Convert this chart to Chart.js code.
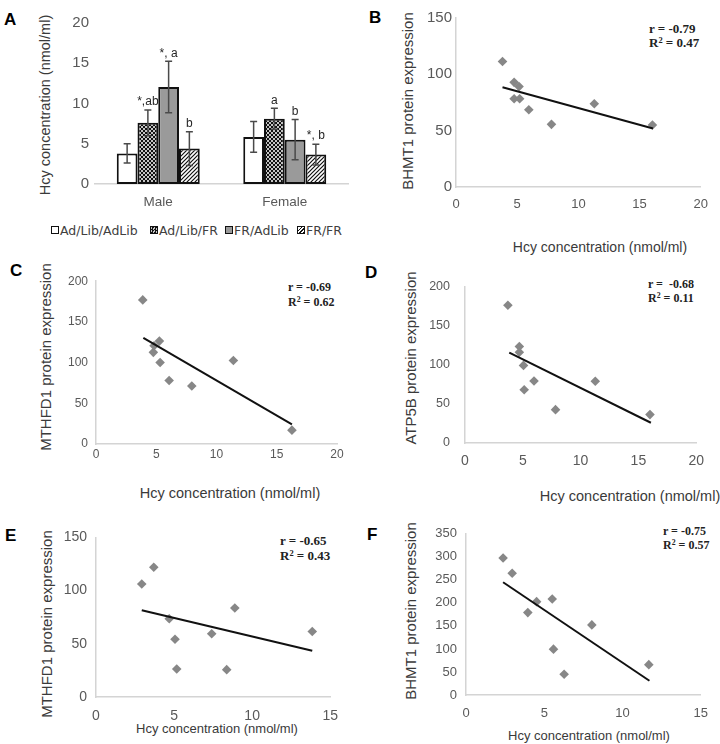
<!DOCTYPE html>
<html>
<head>
<meta charset="utf-8">
<script src="https://cdn.jsdelivr.net/npm/chart.js@4.4.1/dist/chart.umd.min.js"></script>
<style>
  html, body { margin: 0; padding: 0; background: #fff; }
  body { width: 720px; height: 744px; position: relative; overflow: hidden; font-family: "Liberation Sans", Arial, sans-serif; }
  canvas { position: absolute; }
  .lbl { position: absolute; font-weight: bold; font-size: 17px; line-height: 1; color: #000; }
  .ytitle { position: absolute; white-space: nowrap; font-size: 15px; color: #3a3a3a; transform: translate(-50%, -50%) rotate(-90deg); }
  .xtitle { position: absolute; white-space: nowrap; font-size: 14px; color: #3a3a3a; transform: translate(-50%, -50%); }
  .stat { position: absolute; white-space: nowrap; font-family: "Liberation Serif", "Times New Roman", serif; font-weight: bold; color: #222; }
  .stat sup { font-size: 0.65em; line-height: 0; vertical-align: 0.5em; }
  .leg { position: absolute; top: 222px; height: 16px; display: flex; align-items: center; font-family: "DejaVu Sans", sans-serif; font-size: 12.5px; color: #404040; white-space: nowrap; }
  .sw { width: 6px; height: 6px; border: 1.3px solid #111; margin-right: 1px; }
</style>
</head>
<body>

<div class="lbl" style="left:4px;top:11px">A</div>
<div class="lbl" style="left:369px;top:9px">B</div>
<div class="lbl" style="left:10px;top:262px">C</div>
<div class="lbl" style="left:365px;top:264px">D</div>
<div class="lbl" style="left:5px;top:527px">E</div>
<div class="lbl" style="left:367px;top:526px">F</div>

<div class="ytitle" style="left:45px;top:105px;font-size:14.5px">Hcy concentration (nmol/ml)</div>
<div class="ytitle" style="left:407px;top:101px">BHMT1 protein expression</div>
<div class="ytitle" style="left:45px;top:357px">MTHFD1 protein expression</div>
<div class="ytitle" style="left:410px;top:358px">ATP5B protein expression</div>
<div class="ytitle" style="left:46px;top:624px">MTHFD1 protein expression</div>
<div class="ytitle" style="left:410px;top:611px">BHMT1 protein expression</div>

<div class="xtitle" style="left:600px;top:247px">Hcy concentration (nmol/ml)</div>
<div class="xtitle" style="left:230px;top:493px;font-size:14.5px">Hcy concentration (nmol/ml)</div>
<div class="xtitle" style="left:630px;top:496px;font-size:14.5px">Hcy concentration (nmol/ml)</div>
<div class="xtitle" style="left:217px;top:728px;font-size:13px">Hcy concentration (nmol/ml)</div>
<div class="xtitle" style="left:589px;top:735px;font-size:13px">Hcy concentration (nmol/ml)</div>

<div class="stat" style="left:649px;top:22px;font-size:13px;line-height:14px">r = -0.79<br>R<sup>2</sup> = 0.47</div>
<div class="stat" style="left:288px;top:280px;font-size:12px;line-height:15px">r = -0.69<br>R<sup>2</sup> = 0.62</div>
<div class="stat" style="left:648px;top:277px;font-size:12px;line-height:14px">r =&nbsp;&nbsp;-0.68<br>R<sup>2</sup> = 0.11</div>
<div class="stat" style="left:280px;top:533px;font-size:13px;line-height:15px">r = -0.65<br>R<sup>2</sup> = 0.43</div>
<div class="stat" style="left:663px;top:525px;font-size:12px;line-height:13.5px">r = -0.75<br>R<sup>2</sup> = 0.57</div>

<script>
'use strict';

// ---------- panel A: Hcy by sex and diet group ----------
var groups = ['Male', 'Female'];
var seriesNames = ['Ad/Lib/AdLib', 'Ad/Lib/FR', 'FR/AdLib', 'FR/FR'];
var adlibAdlib = [3.8, 5.85];
var adlibFr = [7.6, 8.1];
var frAdlib = [12.05, 5.5];
var frFr = [4.4, 3.65];
var adlibAdlibSd = [1.2, 1.9];
var adlibFrSd = [1.6, 1.3];
var frAdlibSd = [3.2, 2.5];
var frFrSd = [2.1, 1.3];
var adlibAdlibSig = ['', ''];
var adlibFrSig = ['*,ab', 'a'];
var frAdlibSig = ['*, a', 'b'];
var frFrSig = ['b', '*, b'];
var ticksHcyA = [0, 5, 10, 15, 20];

// ---------- scatter panels ----------
var ticks15 = [0, 5, 10, 15];
var ticks20 = [0, 5, 10, 15, 20];
var ticks150 = [0, 50, 100, 150];
var ticks200 = [0, 50, 100, 150, 200];
var ticks350 = [0, 50, 100, 150, 200, 250, 300, 350];

// B: BHMT1
var hcyB = [3.8, 4.75, 5.15, 4.75, 5.2, 5.95, 7.8, 11.3, 16.05];
var bhmt1B = [111.4, 92.9, 89.1, 78.3, 78.3, 68.6, 55.6, 73.9, 55];
var fitHcyB = [3.8, 16.1];
var fitB = [88.5, 52];

// C: MTHFD1
var hcyC = [3.88, 4.76, 4.82, 5.26, 5.32, 6.07, 7.95, 11.4, 16.26];
var mthfd1C = [177, 112.6, 120.7, 126.4, 100.2, 78, 71.2, 102.6, 17];
var fitHcyC = [3.93, 16.26];
var fitC = [130.4, 24.1];

// D: ATP5B
var hcyD = [3.71, 4.7, 4.7, 5.06, 5.12, 5.97, 7.83, 11.27, 16.0];
var atp5bD = [176, 123.3, 116, 99.2, 68, 79.2, 42.6, 78.9, 36.3];
var fitHcyD = [3.83, 16.08];
var fitD = [115.5, 25.9];

// E: MTHFD1
var hcyE = [2.93, 3.7, 4.69, 5.06, 5.17, 7.41, 8.37, 8.89, 13.85];
var mthfd1E = [106.2, 121.9, 73.6, 54.3, 26.3, 59.5, 25.7, 83.6, 61.6];
var fitHcyE = [2.93, 13.85];
var fitE = [81.5, 43.5];

// F: BHMT1
var hcyF = [2.37, 2.95, 3.95, 4.51, 5.51, 5.59, 6.27, 8.04, 11.68];
var bhmt1F = [297.4, 264.4, 178.9, 202.7, 208.3, 99.6, 44.9, 152.2, 65.9];
var fitHcyF = [2.37, 11.72];
var fitF = [244.8, 30.9];

Chart.defaults.font.family = '"Liberation Sans", Arial, sans-serif';
Chart.defaults.color = '#595959';
Chart.defaults.animation = false;
Chart.defaults.plugins.legend.display = false;
Chart.defaults.plugins.tooltip.enabled = false;

var PAD_L = 50, PAD_T = 12, PAD_R = 13, PAD_B = 30, Y_W = 44, X_H = 26;

function place(area) {
    var c = document.createElement('canvas');
    var left = area.l - PAD_L, top = area.t - PAD_T;
    var w = area.r + PAD_R - left, h = area.b + PAD_B - top;
    c.width = w; c.height = h;
    c.style.left = left + 'px'; c.style.top = top + 'px';
    c.style.width = w + 'px'; c.style.height = h + 'px';
    document.body.appendChild(c);
    return c;
}

function fixedTicks(values) {
    return function(scale) {
        scale.ticks = values.map(function(v) { return { value: v }; });
    };
}

var layoutPad = { left: PAD_L - Y_W, top: PAD_T, right: PAD_R, bottom: PAD_B - X_H };

function pattern(kind) {
    var c = document.createElement('canvas');
    var g;
    if (kind === 'check') {
        c.width = 4; c.height = 4;
        g = c.getContext('2d');
        g.fillStyle = '#c4c4c4'; g.fillRect(0, 0, 4, 4);
        g.fillStyle = '#111'; g.fillRect(0, 0, 2, 2); g.fillRect(2, 2, 2, 2);
    } else {
        c.width = 4; c.height = 4;
        g = c.getContext('2d');
        g.fillStyle = '#fff'; g.fillRect(0, 0, 4, 4);
        g.strokeStyle = '#111'; g.lineWidth = 1.2;
        g.beginPath();
        g.moveTo(-1, 5); g.lineTo(5, -1);
        g.moveTo(-1, 1); g.lineTo(1, -1);
        g.moveTo(3, 5); g.lineTo(5, 3);
        g.stroke();
    }
    return document.createElement('canvas').getContext('2d').createPattern(c, 'repeat');
}

var errorBars = {
    id: 'errorBars',
    afterDatasetsDraw: function(chart) {
        var ctx = chart.ctx, y = chart.scales.y;
        chart.data.datasets.forEach(function(ds, i) {
            chart.getDatasetMeta(i).data.forEach(function(bar, j) {
                var v = ds.data[j], e = ds.sd[j];
                var top = y.getPixelForValue(v + e), bot = y.getPixelForValue(v - e);
                ctx.save();
                ctx.strokeStyle = '#4a4a4a';
                ctx.lineWidth = 1.5;
                ctx.beginPath();
                ctx.moveTo(bar.x, top); ctx.lineTo(bar.x, bot);
                ctx.moveTo(bar.x - 3.5, top); ctx.lineTo(bar.x + 3.5, top);
                ctx.moveTo(bar.x - 3.5, bot); ctx.lineTo(bar.x + 3.5, bot);
                ctx.stroke();
                if (ds.sig[j]) {
                    ctx.fillStyle = '#262626';
                    ctx.font = '12px "Liberation Sans", Arial, sans-serif';
                    ctx.textAlign = 'center';
                    ctx.textBaseline = 'bottom';
                    ctx.fillText(ds.sig[j], bar.x, top - 2);
                }
                ctx.restore();
            });
        });
    }
};

// ---------- panel A ----------
var fillsA = ['#ffffff', pattern('check'), '#9a9a9a', pattern('hatch')];
var meansA = [adlibAdlib, adlibFr, frAdlib, frFr];
var sdA = [adlibAdlibSd, adlibFrSd, frAdlibSd, frFrSd];
var sigA = [adlibAdlibSig, adlibFrSig, frAdlibSig, frFrSig];

new Chart(place({ l: 95, r: 348, t: 20, b: 184 }), {
    type: 'bar',
    data: {
        labels: groups,
        datasets: seriesNames.map(function(name, i) {
            return {
                label: name,
                data: meansA[i],
                sd: sdA[i],
                sig: sigA[i],
                backgroundColor: fillsA[i],
                borderColor: '#111',
                borderWidth: 2,
                borderSkipped: false,
                categoryPercentage: 0.656,
                barPercentage: 1
            };
        })
    },
    options: {
        responsive: false,
        layout: { padding: layoutPad },
        scales: {
            x: {
                grid: { display: false, drawTicks: false },
                border: { color: '#d4d4d4', width: 1.5 },
                ticks: { font: { size: 13.5 }, padding: 10 },
                afterFit: function(s) { s.height = X_H; }
            },
            y: {
                min: 0, max: 20,
                grid: { display: false, drawTicks: false },
                border: { display: false },
                ticks: { font: { size: 15 }, padding: 6 },
                afterBuildTicks: fixedTicks(ticksHcyA),
                afterFit: function(s) { s.width = Y_W; }
            }
        }
    },
    plugins: [errorBars]
});

// legend for panel A
var legLeft = [51, 150, 225, 297];
var swatch = [
    'background:#fff',
    'background:repeating-conic-gradient(#111 0 25%, #c4c4c4 0 50%) 0 0/3px 3px',
    'background:#9a9a9a',
    'background:repeating-linear-gradient(-45deg, #111 0 1px, #fff 1px 2.6px)'
];
seriesNames.forEach(function(name, i) {
    var d = document.createElement('div');
    d.className = 'leg';
    d.style.left = legLeft[i] + 'px';
    d.innerHTML = '<span class="sw" style="' + swatch[i] + '"></span>';
    d.appendChild(document.createTextNode(name));
    document.body.appendChild(d);
});

// ---------- scatter panels ----------
function scatterPanel(area, xs, ys, fitX, fitY, xTicks, yTicks, st) {
    new Chart(place(area), {
        type: 'scatter',
        data: {
            datasets: [{
                data: fitX.map(function(x, i) { return { x: x, y: fitY[i] }; }),
                showLine: true,
                borderColor: '#111',
                borderWidth: 2,
                pointRadius: 0,
                order: 0
            }, {
                data: xs.map(function(x, i) { return { x: x, y: ys[i] }; }),
                pointStyle: 'rectRot',
                pointRadius: 4.8,
                backgroundColor: '#878787',
                borderWidth: 0,
                order: 1
            }]
        },
        options: {
            responsive: false,
            layout: { padding: layoutPad },
            scales: {
                x: {
                    min: xTicks[0], max: xTicks[xTicks.length - 1],
                    grid: { display: false, drawTicks: false },
                    border: { color: '#d4d4d4', width: 1.5 },
                    ticks: { font: { size: st.xFont }, padding: st.xPad },
                    afterBuildTicks: fixedTicks(xTicks),
                    afterFit: function(s) { s.height = X_H; }
                },
                y: {
                    min: yTicks[0], max: yTicks[yTicks.length - 1],
                    grid: { display: false, drawTicks: false },
                    border: { color: '#d4d4d4', width: 1.5 },
                    ticks: { font: { size: st.yFont }, padding: st.yPad },
                    afterBuildTicks: fixedTicks(yTicks),
                    afterFit: function(s) { s.width = Y_W; }
                }
            }
        }
    });
}

scatterPanel({ l: 456, r: 705, t: 17, b: 187 }, hcyB, bhmt1B, fitHcyB, fitB, ticks20, ticks150,
    { xFont: 13, xPad: 10, yFont: 15, yPad: 4 });
scatterPanel({ l: 96, r: 337, t: 278, b: 444 }, hcyC, mthfd1C, fitHcyC, fitC, ticks20, ticks200,
    { xFont: 12, xPad: 3, yFont: 12, yPad: 8 });
scatterPanel({ l: 465, r: 701, t: 276, b: 443 }, hcyD, atp5bD, fitHcyD, fitD, ticks20, ticks200,
    { xFont: 14, xPad: 10, yFont: 12.5, yPad: 15 });
scatterPanel({ l: 96, r: 336, t: 532, b: 697 }, hcyE, mthfd1E, fitHcyE, fitE, ticks15, ticks150,
    { xFont: 14, xPad: 11, yFont: 14, yPad: 9 });
scatterPanel({ l: 466, r: 706, t: 529, b: 695 }, hcyF, bhmt1F, fitHcyF, fitF, ticks15, ticks350,
    { xFont: 13, xPad: 11, yFont: 13, yPad: 9 });
</script>
</body>
</html>
